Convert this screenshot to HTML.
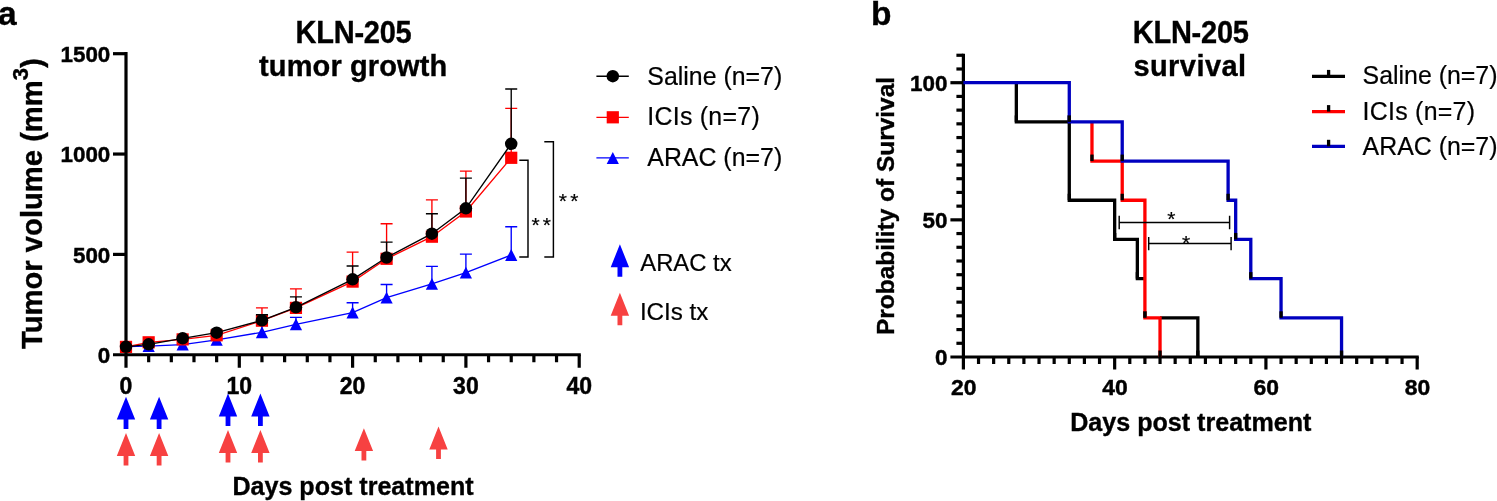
<!DOCTYPE html>
<html lang="en">
<head>
<meta charset="utf-8">
<title>KLN-205 tumor growth and survival</title>
<style>
html,body{margin:0;padding:0;background:#fff;}
body{width:1497px;height:501px;overflow:hidden;}
svg{display:block;}
text{font-kerning:normal;}
</style>
</head>
<body>
<svg width="1497" height="501" viewBox="0 0 1497 501">
<rect width="1497" height="501" fill="#fff"/>
<g stroke="#000" stroke-width="3.2" fill="none" stroke-linecap="butt">
<path d="M126 52.1 V367.75"/>
<path d="M113 354.75 H580.8"/>
<path d="M113 254.4 H126"/>
<path d="M113 154.05 H126"/>
<path d="M113 53.7 H126"/>
<path d="M148.66 354.75 V362.25"/>
<path d="M171.32 354.75 V362.25"/>
<path d="M193.98 354.75 V362.25"/>
<path d="M216.64 354.75 V362.25"/>
<path d="M239.3 354.75 V367.75"/>
<path d="M261.96 354.75 V362.25"/>
<path d="M284.62 354.75 V362.25"/>
<path d="M307.28 354.75 V362.25"/>
<path d="M329.94 354.75 V362.25"/>
<path d="M352.6 354.75 V367.75"/>
<path d="M375.26 354.75 V362.25"/>
<path d="M397.92 354.75 V362.25"/>
<path d="M420.58 354.75 V362.25"/>
<path d="M443.24 354.75 V362.25"/>
<path d="M465.9 354.75 V367.75"/>
<path d="M488.56 354.75 V362.25"/>
<path d="M511.22 354.75 V362.25"/>
<path d="M533.88 354.75 V362.25"/>
<path d="M556.54 354.75 V362.25"/>
<path d="M579.2 354.75 V367.75"/>
</g>
<g font-family="'Liberation Sans', sans-serif" font-weight="700" font-size="22.4" fill="#000" stroke="#000" stroke-width="0.45">
<text x="110.3" y="362.85" text-anchor="end">0</text>
<text x="110.3" y="262.5" text-anchor="end">500</text>
<text x="110.3" y="162.15" text-anchor="end">1000</text>
<text x="110.3" y="61.8" text-anchor="end">1500</text>
<text x="126" y="393.5" text-anchor="middle" font-size="23">0</text>
<text x="239.3" y="393.5" text-anchor="middle" font-size="23">10</text>
<text x="352.6" y="393.5" text-anchor="middle" font-size="23">20</text>
<text x="465.9" y="393.5" text-anchor="middle" font-size="23">30</text>
<text x="579.2" y="393.5" text-anchor="middle" font-size="23">40</text>
</g>
<g stroke="#0000ff" stroke-width="1.35" fill="none">
<path d="M261.96 332.3 V324.9 M255.96 324.9 H267.96"/>
<path d="M295.95 324.3 V317.3 M289.95 317.3 H301.95"/>
<path d="M352.6 312.6 V302.7 M346.6 302.7 H358.6"/>
<path d="M386.59 297.7 V284.5 M380.59 284.5 H392.59"/>
<path d="M431.91 283.9 V266.4 M425.91 266.4 H437.91"/>
<path d="M465.9 272.7 V254.1 M459.9 254.1 H471.9"/>
<path d="M511.22 255 V226.7 M505.22 226.7 H517.22"/>
<polyline points="126,346.6 148.66,346.2 182.65,344.6 216.64,339.8 261.96,332.3 295.95,324.3 352.6,312.6 386.59,297.7 431.91,283.9 465.9,272.7 511.22,255"/>
</g>
<g fill="#0000ff">
<path d="M126 340.6 L132.1 352.5 H119.9 Z"/>
<path d="M148.66 340.2 L154.76 352.1 H142.56 Z"/>
<path d="M182.65 338.6 L188.75 350.5 H176.55 Z"/>
<path d="M216.64 333.8 L222.74 345.7 H210.54 Z"/>
<path d="M261.96 326.3 L268.06 338.2 H255.86 Z"/>
<path d="M295.95 318.3 L302.05 330.2 H289.85 Z"/>
<path d="M352.6 306.6 L358.7 318.5 H346.5 Z"/>
<path d="M386.59 291.7 L392.69 303.6 H380.49 Z"/>
<path d="M431.91 277.9 L438.01 289.8 H425.81 Z"/>
<path d="M465.9 266.7 L472 278.6 H459.8 Z"/>
<path d="M511.22 249 L517.32 260.9 H505.12 Z"/>
</g>
<g stroke="#ff0000" stroke-width="1.35" fill="none">
<path d="M261.96 320.7 V307.9 M255.96 307.9 H267.96"/>
<path d="M295.95 307.9 V288.8 M289.95 288.8 H301.95"/>
<path d="M352.6 281.6 V252.1 M346.6 252.1 H358.6"/>
<path d="M386.59 258.8 V223.7 M380.59 223.7 H392.59"/>
<path d="M431.91 236.7 V199.9 M425.91 199.9 H437.91"/>
<path d="M465.9 211.5 V171.1 M459.9 171.1 H471.9"/>
<path d="M511.22 157.8 V108.3 M505.22 108.3 H517.22"/>
<polyline points="126,346.9 148.66,342.3 182.65,339.4 216.64,335.3 261.96,320.7 295.95,307.9 352.6,281.6 386.59,258.8 431.91,236.7 465.9,211.5 511.22,157.8"/>
</g>
<g fill="#ff0000">
<rect x="119.9" y="340.8" width="12.2" height="12.2"/>
<rect x="142.56" y="336.2" width="12.2" height="12.2"/>
<rect x="176.55" y="333.3" width="12.2" height="12.2"/>
<rect x="210.54" y="329.2" width="12.2" height="12.2"/>
<rect x="255.86" y="314.6" width="12.2" height="12.2"/>
<rect x="289.85" y="301.8" width="12.2" height="12.2"/>
<rect x="346.5" y="275.5" width="12.2" height="12.2"/>
<rect x="380.49" y="252.7" width="12.2" height="12.2"/>
<rect x="425.81" y="230.6" width="12.2" height="12.2"/>
<rect x="459.8" y="205.4" width="12.2" height="12.2"/>
<rect x="505.12" y="151.7" width="12.2" height="12.2"/>
</g>
<g stroke="#000000" stroke-width="1.35" fill="none">
<path d="M261.96 320.3 V314.7 M255.96 314.7 H267.96"/>
<path d="M295.95 307.3 V296.9 M289.95 296.9 H301.95"/>
<path d="M352.6 279.3 V266 M346.6 266 H358.6"/>
<path d="M386.59 257.5 V242.1 M380.59 242.1 H392.59"/>
<path d="M431.91 233.7 V213.7 M425.91 213.7 H437.91"/>
<path d="M465.9 208.3 V178.1 M459.9 178.1 H471.9"/>
<path d="M511.22 143.8 V89 M505.22 89 H517.22"/>
<polyline points="126,346.8 148.66,344.3 182.65,338.3 216.64,332.7 261.96,320.3 295.95,307.3 352.6,279.3 386.59,257.5 431.91,233.7 465.9,208.3 511.22,143.8"/>
</g>
<g fill="#000000">
<circle cx="126" cy="346.8" r="6.25"/>
<circle cx="148.66" cy="344.3" r="6.25"/>
<circle cx="182.65" cy="338.3" r="6.25"/>
<circle cx="216.64" cy="332.7" r="6.25"/>
<circle cx="261.96" cy="320.3" r="6.25"/>
<circle cx="295.95" cy="307.3" r="6.25"/>
<circle cx="352.6" cy="279.3" r="6.25"/>
<circle cx="386.59" cy="257.5" r="6.25"/>
<circle cx="431.91" cy="233.7" r="6.25"/>
<circle cx="465.9" cy="208.3" r="6.25"/>
<circle cx="511.22" cy="143.8" r="6.25"/>
</g>
<g stroke="#000" stroke-width="1.45" fill="none">
<path d="M519.3 160.2 H528 V256.9 H519.3"/>
<path d="M544.3 141.8 H553.4 V256.9 H544.3"/>
</g>
<g font-family="'Liberation Sans', sans-serif" font-size="21" fill="#000" stroke="#000" stroke-width="0.2" text-anchor="middle">
<text x="535.7" y="232.2">*</text>
<text x="546.8" y="232.2">*</text>
<text x="562.8" y="207.6">*</text>
<text x="574.3" y="207.6">*</text>
</g>
<g stroke-width="1.35" fill="none">
<path d="M596.4 76.2 H628.8" stroke="#000"/>
<path d="M596.4 117.3 H628.8" stroke="#f00"/>
<path d="M596.4 157.9 H628.8" stroke="#00f"/>
</g>
<circle cx="612.8" cy="76.2" r="6.25" fill="#000"/>
<rect x="606.7" y="111.2" width="12.2" height="12.2" fill="#f00"/>
<path d="M612.8 151.9 L618.9 163.9 H606.7 Z" fill="#00f"/>
<g font-family="'Liberation Sans', sans-serif" font-size="24.9" fill="#000" stroke="#000" stroke-width="0.2">
<text x="647.3" y="84.9">Saline (n=7)</text>
<text x="647.3" y="125.4" letter-spacing="0.27">ICIs (n=7)</text>
<text x="647.3" y="166.4">ARAC (n=7)</text>
<text x="640.3" y="271.3" font-size="23.8">ARAC tx</text>
<text x="639.9" y="319.8" font-size="24.2">ICIs tx</text>
</g>
<path fill="#0000ff" d="M619.9 244.3 L629.1 267.2 H622.3 V276.7 H617.5 V267.2 H610.7 Z"/>
<path fill="#f74141" d="M619.9 292.8 L629.1 315.7 H622.3 V325.2 H617.5 V315.7 H610.7 Z"/>
<path fill="#0000ff" d="M126 396.7 L135.2 419.6 H128.4 V429.1 H123.6 V419.6 H116.8 Z"/>
<path fill="#0000ff" d="M159.1 396.7 L168.3 419.6 H161.5 V429.1 H156.7 V419.6 H149.9 Z"/>
<path fill="#0000ff" d="M228 393.5 L237.2 416.4 H230.4 V425.9 H225.6 V416.4 H218.8 Z"/>
<path fill="#0000ff" d="M260.4 393.5 L269.6 416.4 H262.8 V425.9 H258 V416.4 H251.2 Z"/>
<path fill="#f74141" d="M126 433.1 L135.2 456 H128.4 V465.5 H123.6 V456 H116.8 Z"/>
<path fill="#f74141" d="M159.1 433.1 L168.3 456 H161.5 V465.5 H156.7 V456 H149.9 Z"/>
<path fill="#f74141" d="M228 430.1 L237.2 453 H230.4 V462.5 H225.6 V453 H218.8 Z"/>
<path fill="#f74141" d="M260.4 430.1 L269.6 453 H262.8 V462.5 H258 V453 H251.2 Z"/>
<path fill="#f74141" d="M363.9 428.2 L373.1 451.1 H366.3 V460.6 H361.5 V451.1 H354.7 Z"/>
<path fill="#f74141" d="M438.5 426.6 L447.7 449.5 H440.9 V459 H436.1 V449.5 H429.3 Z"/>
<g font-family="'Liberation Sans', sans-serif" font-weight="700" fill="#000" stroke="#000" stroke-width="0.35">
<text transform="translate(353.5 43.3) scale(1 1.06)" font-size="29" letter-spacing="-0.25" text-anchor="middle">KLN-205</text>
<text x="353.2" y="75.5" font-size="29" letter-spacing="0.12" text-anchor="middle">tumor growth</text>
<text x="353" y="494.8" font-size="25.1" text-anchor="middle">Days post treatment</text>
<text transform="translate(42.3 348.9) rotate(-90)" font-size="29.2">Tumor volume (mm<tspan font-size="22" dy="-14.6">3</tspan><tspan dy="14.6">)</tspan></text>
<text x="-2" y="24.8" font-size="33.5">a</text>
<text x="871" y="24.7" font-size="33.5">b</text>
</g>
<g stroke="#000" stroke-width="3.2" fill="none">
<path d="M963.4 53.67 V369.5"/>
<path d="M950.4 357 H1418.78"/>
<path d="M956.4 343.29 H963.4"/>
<path d="M956.4 329.57 H963.4"/>
<path d="M956.4 315.86 H963.4"/>
<path d="M956.4 302.14 H963.4"/>
<path d="M956.4 288.43 H963.4"/>
<path d="M956.4 274.71 H963.4"/>
<path d="M956.4 261 H963.4"/>
<path d="M956.4 247.28 H963.4"/>
<path d="M956.4 233.56 H963.4"/>
<path d="M950.4 219.85 H963.4"/>
<path d="M956.4 206.14 H963.4"/>
<path d="M956.4 192.42 H963.4"/>
<path d="M956.4 178.71 H963.4"/>
<path d="M956.4 164.99 H963.4"/>
<path d="M956.4 151.28 H963.4"/>
<path d="M956.4 137.56 H963.4"/>
<path d="M956.4 123.84 H963.4"/>
<path d="M956.4 110.13 H963.4"/>
<path d="M956.4 96.42 H963.4"/>
<path d="M950.4 82.7 H963.4"/>
<path d="M956.4 68.99 H963.4"/>
<path d="M956.4 55.27 H963.4"/>
<path d="M978.53 357 V364"/>
<path d="M993.65 357 V364"/>
<path d="M1008.78 357 V364"/>
<path d="M1023.9 357 V364"/>
<path d="M1039.03 357 V364"/>
<path d="M1054.16 357 V364"/>
<path d="M1069.28 357 V364"/>
<path d="M1084.41 357 V364"/>
<path d="M1099.53 357 V364"/>
<path d="M1114.66 357 V369.5"/>
<path d="M1129.79 357 V364"/>
<path d="M1144.91 357 V364"/>
<path d="M1160.04 357 V364"/>
<path d="M1175.16 357 V364"/>
<path d="M1190.29 357 V364"/>
<path d="M1205.42 357 V364"/>
<path d="M1220.54 357 V364"/>
<path d="M1235.67 357 V364"/>
<path d="M1250.79 357 V364"/>
<path d="M1265.92 357 V369.5"/>
<path d="M1281.05 357 V364"/>
<path d="M1296.17 357 V364"/>
<path d="M1311.3 357 V364"/>
<path d="M1326.42 357 V364"/>
<path d="M1341.55 357 V364"/>
<path d="M1356.68 357 V364"/>
<path d="M1371.8 357 V364"/>
<path d="M1386.93 357 V364"/>
<path d="M1402.05 357 V364"/>
<path d="M1417.18 357 V369.5"/>
</g>
<g font-family="'Liberation Sans', sans-serif" font-weight="700" font-size="22.4" fill="#000" stroke="#000" stroke-width="0.45">
<text x="947.4" y="364.9" text-anchor="end">0</text>
<text x="947.4" y="227.75" text-anchor="end">50</text>
<text x="947.4" y="90.6" text-anchor="end">100</text>
<text x="963.7" y="394.6" text-anchor="middle" font-size="22.9">20</text>
<text x="1114.96" y="394.6" text-anchor="middle" font-size="22.9">40</text>
<text x="1266.22" y="394.6" text-anchor="middle" font-size="22.9">60</text>
<text x="1417.48" y="394.6" text-anchor="middle" font-size="22.9">80</text>
</g>
<polyline fill="none" stroke="#000" stroke-width="3.3" stroke-linejoin="miter" points="1016.34,82.7 1016.34,121.89 1069.28,121.89 1069.28,200.26 1114.66,200.26 1114.66,239.44 1137.35,239.44 1137.35,278.63 1144.91,278.63"/>
<polyline fill="none" stroke="#000" stroke-width="3.3" points="1160.04,317.81 1197.85,317.81 1197.85,357"/>
<g stroke="#000" stroke-width="3.3">
<path d="M1016.34 115.39 V121.89"/>
<path d="M1069.28 193.76 V200.26"/>
<path d="M1114.66 232.94 V239.44"/>
<path d="M1137.35 272.13 V278.63"/>
<path d="M1144.91 311.31 V317.81"/>
<path d="M1197.85 350.5 V357"/>
</g>
<polyline fill="none" stroke="#f00" stroke-width="3.3" stroke-linejoin="miter" points="1091.97,121.89 1091.97,161.07 1122.22,161.07 1122.22,200.26 1144.91,200.26 1144.91,317.81 1160.04,317.81 1160.04,357"/>
<g stroke="#000" stroke-width="3.3">
<path d="M1069.28 115.39 V121.89"/>
<path d="M1091.97 154.57 V161.07"/>
<path d="M1122.22 193.76 V200.26"/>
<path d="M1144.91 311.31 V317.81"/>
<path d="M1160.04 350.5 V357"/>
</g>
<polyline fill="none" stroke="#0000c0" stroke-width="3.3" stroke-linejoin="miter" points="963.4,82.7 1069.28,82.7 1069.28,121.89 1122.22,121.89 1122.22,161.07 1228.11,161.07 1228.11,200.26 1235.67,200.26 1235.67,239.44 1250.79,239.44 1250.79,278.63 1281.05,278.63 1281.05,317.81 1341.55,317.81 1341.55,357"/>
<g stroke="#000" stroke-width="3.3">
<path d="M1069.28 115.39 V121.89"/>
<path d="M1122.22 154.57 V161.07"/>
<path d="M1228.11 193.76 V200.26"/>
<path d="M1235.67 232.94 V239.44"/>
<path d="M1250.79 272.13 V278.63"/>
<path d="M1281.05 311.31 V317.81"/>
<path d="M1341.55 350.5 V357"/>
</g>
<g stroke="#000" stroke-width="1.45" fill="none">
<path d="M1119.2 222.4 H1229.6 M1119.2 215.8 V229.2 M1229.6 215.8 V229.2"/>
<path d="M1148.7 243.5 H1231.1 M1148.7 236.9 V250.3 M1231.1 236.9 V250.3"/>
</g>
<g font-family="'Liberation Sans', sans-serif" font-size="21" fill="#000" stroke="#000" stroke-width="0.2" text-anchor="middle">
<text x="1171.4" y="226.3">*</text>
<text x="1186.2" y="250.1">*</text>
</g>
<path d="M1312 76.4 H1345" stroke="#000" stroke-width="3.3"/>
<path d="M1328.6 69.9 V76.4" stroke="#000" stroke-width="3.3"/>
<path d="M1312 111.6 H1345" stroke="#f00" stroke-width="3.3"/>
<path d="M1328.6 105.1 V111.6" stroke="#000" stroke-width="3.3"/>
<path d="M1312 146.3 H1345" stroke="#0000c0" stroke-width="3.3"/>
<path d="M1328.6 139.8 V146.3" stroke="#000" stroke-width="3.3"/>
<g font-family="'Liberation Sans', sans-serif" font-size="24.9" fill="#000" stroke="#000" stroke-width="0.2">
<text x="1362.6" y="84.3">Saline (n=7)</text>
<text x="1362.6" y="119.5" letter-spacing="0.27">ICIs (n=7)</text>
<text x="1362.6" y="154.7">ARAC (n=7)</text>
</g>
<g font-family="'Liberation Sans', sans-serif" font-weight="700" fill="#000" stroke="#000" stroke-width="0.35">
<text transform="translate(1190.7 43.0) scale(1 1.06)" font-size="29" letter-spacing="-0.25" text-anchor="middle">KLN-205</text>
<text x="1190" y="75.6" font-size="29" letter-spacing="0.45" text-anchor="middle">survival</text>
<text x="1190.8" y="430.8" font-size="25.1" text-anchor="middle">Days post treatment</text>
<text transform="translate(893.5 335) rotate(-90)" font-size="24.45">Probability of Survival</text>
</g>
</svg>
</body>
</html>
